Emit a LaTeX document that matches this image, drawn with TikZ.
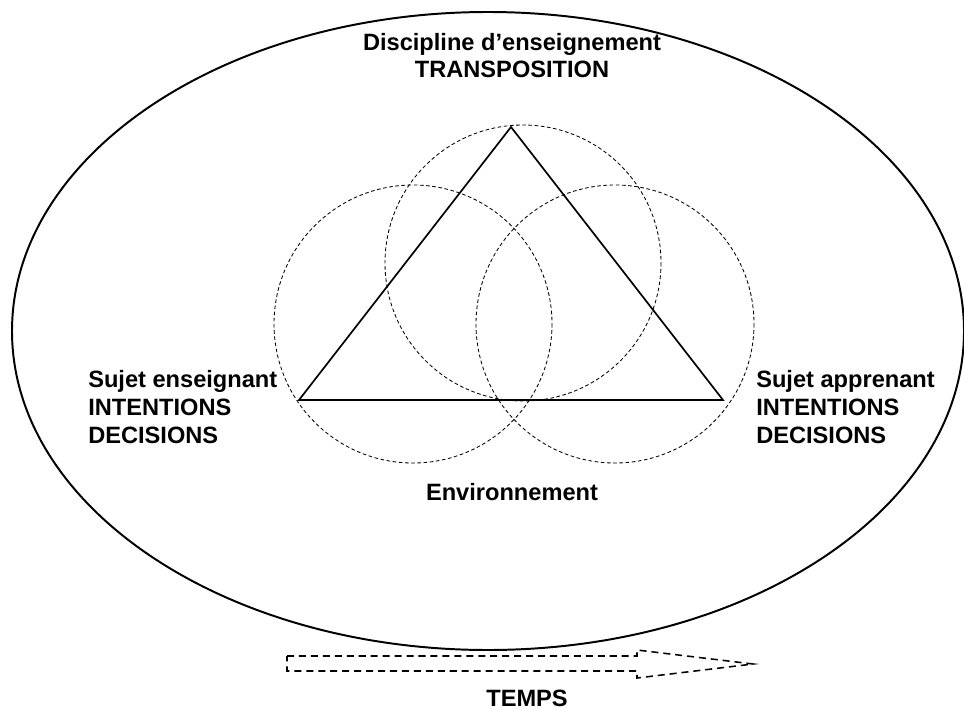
\documentclass[tikz,border=0pt]{standalone}
\usepackage{fontspec}
\setmainfont{Liberation Sans}
\usetikzlibrary{calc,positioning}
\tikzset{
	lbl/.style={font=\fontsize{16.8}{19.8}\selectfont\bfseries, inner sep=0pt},
	cercle/.style={line width=0.6pt, dash pattern=on 2.6pt off 1.8pt},
	trait/.style={line width=1.4pt},
}
\begin{document}
\begin{tikzpicture}[x=0.025cm,y=-0.025cm]
				\useasboundingbox (0,0) rectangle (964,709);
				\coordinate (D) at (511,127);
				\coordinate (E) at (299,400);
				\coordinate (A) at (723,400);
				\coordinate (cD) at (523,263);
				\coordinate (cE) at (413,324);
				\coordinate (cA) at (615,324);
				\coordinate (M) at (488,331);
				\draw[trait] (M) ellipse (476 and 319);
				\draw[cercle] (cD) circle (138);
				\draw[cercle] (cE) circle (139);
				\draw[cercle] (cA) circle (139);
				\draw[trait, line width=1.2pt, line join=miter] (D)--(E)--(A)--cycle;
				\draw[line width=1.1pt, dash pattern=on 5pt off 3.5pt]
					(287,656)--(637,656)--(637,650)--(753,664)--(637,678)--(637,671)--(287,671)--cycle;
				\node[lbl, align=center, anchor=base] (disc) at (512,78) {Discipline d'enseignement\\TRANSPOSITION};
				\node[lbl, align=left, anchor=base west] (ens) at (88,443) {Sujet enseignant\\INTENTIONS\\DECISIONS};
				\node[lbl, align=left, anchor=base west] (app) at (756,443) {Sujet apprenant\\INTENTIONS\\DECISIONS};
				\node[lbl, anchor=base] (env) at (512,500) {Environnement};
				\node[lbl, anchor=base] (temps) at (527,706) {TEMPS};
\end{tikzpicture}
\end{document}
